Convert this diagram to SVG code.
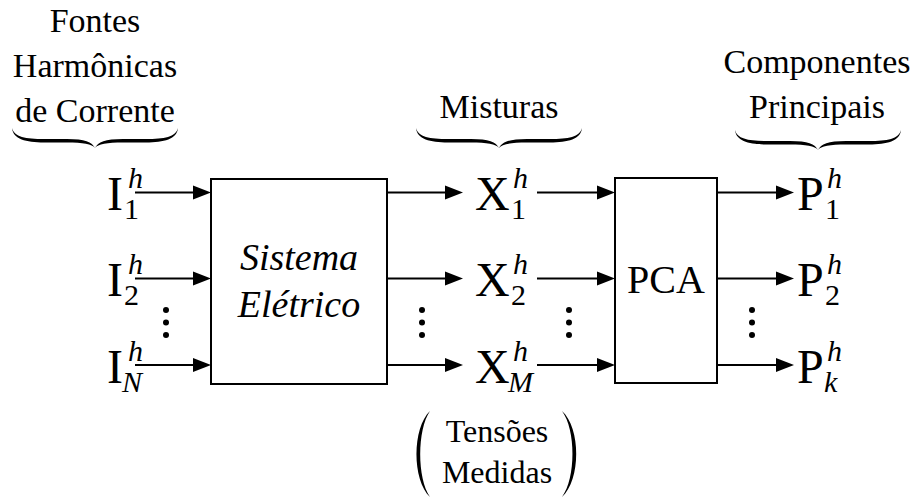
<svg xmlns="http://www.w3.org/2000/svg" width="915" height="498" viewBox="0 0 915 498">
<rect width="915" height="498" fill="#fff"/>

<g id="labels-top">
<text font-family="Liberation Serif" font-size="34" text-anchor="middle" x="95" y="32">Fontes</text>
<text font-family="Liberation Serif" font-size="34" text-anchor="middle" x="95" y="77">Harmônicas</text>
<text font-family="Liberation Serif" font-size="34" text-anchor="middle" x="95" y="122">de Corrente</text>
<path transform="translate(95,128)" fill="#000" d="M-83,0 C-81,9 -69,11 -51,11 L-28,11 C-10,11 -3,14 0,20 C3,14 10,11 28,11 L51,11 C69,11 81,9 83,0 C82,11 69,14.5 51,14.5 L28,14.5 C12,14.5 3,16 0,20 C-3,16 -12,14.5 -28,14.5 L-51,14.5 C-69,14.5 -82,11 -83,0 Z"/>
<text font-family="Liberation Serif" font-size="34" text-anchor="middle" x="499" y="118">Misturas</text>
<path transform="translate(499,128)" fill="#000" d="M-83,0 C-81,9 -69,11 -51,11 L-28,11 C-10,11 -3,14 0,20 C3,14 10,11 28,11 L51,11 C69,11 81,9 83,0 C82,11 69,14.5 51,14.5 L28,14.5 C12,14.5 3,16 0,20 C-3,16 -12,14.5 -28,14.5 L-51,14.5 C-69,14.5 -82,11 -83,0 Z"/>
<text font-family="Liberation Serif" font-size="34" text-anchor="middle" x="817" y="73">Componentes</text>
<text font-family="Liberation Serif" font-size="34" text-anchor="middle" x="817" y="118">Principais</text>
<path transform="translate(818,130)" fill="#000" d="M-83,0 C-81,9 -69,11 -51,11 L-28,11 C-10,11 -3,14 0,20 C3,14 10,11 28,11 L51,11 C69,11 81,9 83,0 C82,11 69,14.5 51,14.5 L28,14.5 C12,14.5 3,16 0,20 C-3,16 -12,14.5 -28,14.5 L-51,14.5 C-69,14.5 -82,11 -83,0 Z"/>
</g>

<g id="node-sistema">
<rect x="211" y="179" width="176" height="205" fill="#fff" stroke="#000" stroke-width="2"/>
<text font-family="Liberation Serif" font-style="italic" font-size="38" text-anchor="middle" x="299" y="270">Sistema</text>
<text font-family="Liberation Serif" font-style="italic" font-size="38" text-anchor="middle" x="299" y="317">Elétrico</text>
</g>

<g id="node-pca">
<rect x="615" y="178" width="102" height="205" fill="#fff" stroke="#000" stroke-width="2"/>
<text font-family="Liberation Serif" font-size="40" text-anchor="middle" x="666" y="293">PCA</text>
</g>

<g id="inputs">
<text font-family="Liberation Serif" font-size="48" x="107" y="210">I</text><text font-family="Liberation Serif" font-size="30" x="124" y="219">1</text><text font-family="Liberation Serif" font-style="italic" font-size="30" x="128" y="188">h</text>
<text font-family="Liberation Serif" font-size="48" x="107" y="296">I</text><text font-family="Liberation Serif" font-size="30" x="124" y="305">2</text><text font-family="Liberation Serif" font-style="italic" font-size="30" x="128" y="274">h</text>
<text font-family="Liberation Serif" font-size="48" x="107" y="383">I</text><text font-family="Liberation Serif" font-style="italic" font-size="30" x="122" y="392">N</text><text font-family="Liberation Serif" font-style="italic" font-size="30" x="128" y="361">h</text>
<circle cx="166" cy="310" r="3"/><circle cx="166" cy="322.5" r="3"/><circle cx="166" cy="335" r="3"/>
</g>

<g id="mixtures">
<text font-family="Liberation Serif" font-size="48" x="475" y="210">X</text><text font-family="Liberation Serif" font-size="30" x="511" y="219">1</text><text font-family="Liberation Serif" font-style="italic" font-size="30" x="513" y="188">h</text>
<text font-family="Liberation Serif" font-size="48" x="475" y="296">X</text><text font-family="Liberation Serif" font-size="30" x="511" y="305">2</text><text font-family="Liberation Serif" font-style="italic" font-size="30" x="513" y="274">h</text>
<text font-family="Liberation Serif" font-size="48" x="475" y="383">X</text><text font-family="Liberation Serif" font-style="italic" font-size="30" x="508" y="392">M</text><text font-family="Liberation Serif" font-style="italic" font-size="30" x="513" y="361">h</text>
<circle cx="422" cy="310" r="3"/><circle cx="422" cy="322.5" r="3"/><circle cx="422" cy="335" r="3"/>
<circle cx="569" cy="310" r="3"/><circle cx="569" cy="322.5" r="3"/><circle cx="569" cy="335" r="3"/>
</g>

<g id="outputs">
<text font-family="Liberation Serif" font-size="48" x="797" y="210">P</text><text font-family="Liberation Serif" font-size="30" x="825" y="219">1</text><text font-family="Liberation Serif" font-style="italic" font-size="30" x="827" y="188">h</text>
<text font-family="Liberation Serif" font-size="48" x="797" y="296">P</text><text font-family="Liberation Serif" font-size="30" x="825" y="305">2</text><text font-family="Liberation Serif" font-style="italic" font-size="30" x="827" y="274">h</text>
<text font-family="Liberation Serif" font-size="48" x="797" y="383">P</text><text font-family="Liberation Serif" font-style="italic" font-size="30" x="824" y="392">k</text><text font-family="Liberation Serif" font-style="italic" font-size="30" x="827" y="361">h</text>
<circle cx="752" cy="310" r="3"/><circle cx="752" cy="322.5" r="3"/><circle cx="752" cy="335" r="3"/>
</g>

<g id="connectors">
<g stroke="#000" stroke-width="2">
<line x1="135" y1="192.5" x2="194" y2="192.5"/>
<line x1="135" y1="278.5" x2="194" y2="278.5"/>
<line x1="135" y1="365" x2="194" y2="365"/>
<line x1="387" y1="192.5" x2="446" y2="192.5"/>
<line x1="387" y1="278.5" x2="446" y2="278.5"/>
<line x1="387" y1="365" x2="446" y2="365"/>
<line x1="537" y1="192.5" x2="598" y2="192.5"/>
<line x1="537" y1="278.5" x2="598" y2="278.5"/>
<line x1="537" y1="365" x2="598" y2="365"/>
<line x1="717" y1="192.5" x2="777" y2="192.5"/>
<line x1="717" y1="278.5" x2="777" y2="278.5"/>
<line x1="717" y1="365" x2="777" y2="365"/>
</g>
<g fill="#000">
<polygon points="193,185.5 211,192.5 193,199.5"/>
<polygon points="193,271.5 211,278.5 193,285.5"/>
<polygon points="193,358 211,365 193,372"/>
<polygon points="445,185.5 463,192.5 445,199.5"/>
<polygon points="445,271.5 463,278.5 445,285.5"/>
<polygon points="445,358 463,365 445,372"/>
<polygon points="597,185.5 615,192.5 597,199.5"/>
<polygon points="597,271.5 615,278.5 597,285.5"/>
<polygon points="597,358 615,365 597,372"/>
<polygon points="776,185.5 794,192.5 776,199.5"/>
<polygon points="776,271.5 794,278.5 776,285.5"/>
<polygon points="776,358 794,365 776,372"/>
</g>
</g>

<g id="label-tensoes">
<path fill="#000" d="M430,411 C412,428 412,480 430,497 C417,478 417,430 430,411 Z"/>
<path fill="#000" d="M562,411 C581,428 581,480 562,497 C576,478 576,430 562,411 Z"/>
<text font-family="Liberation Serif" font-size="32" text-anchor="middle" x="497" y="442">Tensões</text>
<text font-family="Liberation Serif" font-size="32" text-anchor="middle" x="497" y="483">Medidas</text>
</g>
</svg>
